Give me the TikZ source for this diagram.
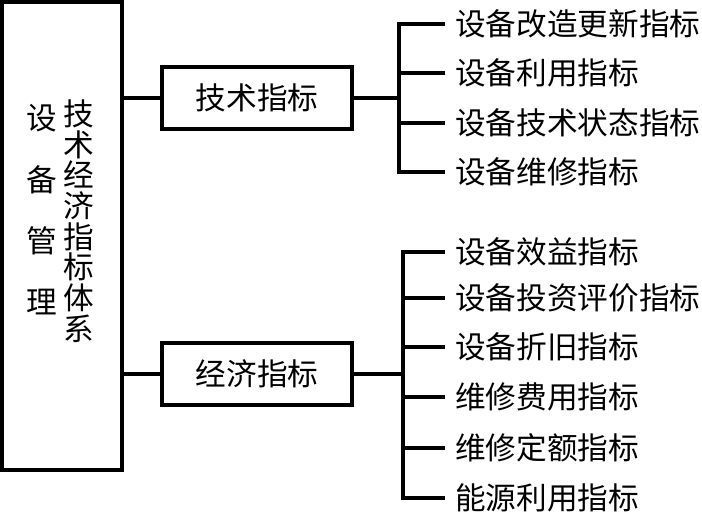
\documentclass[tikz,border=0pt]{standalone}
\usepackage{fontspec}
\newfontfamily\cjk{Noto Sans CJK SC}
\usetikzlibrary{positioning}
\tikzset{
  frame/.style  = {draw, line width=2.3pt, inner sep=0pt, fill=white},
  group/.style  = {frame, minimum width=142.5pt, minimum height=46.5pt,
                   font=\cjk\fontsize{23}{24}\selectfont},
  item/.style   = {anchor=west, inner xsep=9pt, inner ysep=0pt,
                   font=\cjk\fontsize{23}{24}\selectfont},
  wire/.style   = {line width=2.3pt, line cap=rect}
}

\begin{document}
\begin{tikzpicture}[x=0.75pt, y=-0.75pt]
\useasboundingbox (0,0) rectangle (702,515);
% ---- Root box with its two columns of text ----
\node[frame, minimum width=90pt, minimum height=351pt] (root) at (62,236) {};
\node[align=center, inner sep=0pt, font=\cjk\fontsize{23}{46}\selectfont]
  (rootA) at (42,210) {设\\备\\管\\理};
\node[align=center, inner sep=0pt, font=\cjk\fontsize{23}{23}\selectfont]
  (rootB) at (79,221) {技\\术\\经\\济\\指\\标\\体\\系};

% ---- Two groups ----
\node[group] (tech) at (257,98)  {技术指标};
\node[group] (econ) at (257,374) {经济指标};
\draw[wire] (root.east |- tech.west) -- (tech.west);
\draw[wire] (root.east |- econ.west) -- (econ.west);

% ---- Technical indices ----
\coordinate (ts) at (399,98);
\foreach \y/\lab [count=\i] in {%
  24/设备改造更新指标,
  73/设备利用指标,
  123/设备技术状态指标,
  172/设备维修指标} {
  \node[item] (t\i) at (443,\y) {\lab};
  \draw[wire] (ts |- t\i.west) -- (t\i.west);
}
\draw[wire] (tech.east) -- (ts);
\draw[wire] (ts |- t1.west) -- (ts |- t4.west);

% ---- Economic indices ----
\coordinate (es) at (403,374);
\foreach \y/\lab [count=\i] in {%
  252/设备效益指标,
  298/设备投资评价指标,
  347/设备折旧指标,
  397/维修费用指标,
  448/维修定额指标,
  498/能源利用指标} {
  \node[item] (e\i) at (443,\y) {\lab};
  \draw[wire] (es |- e\i.west) -- (e\i.west);
}
\draw[wire] (econ.east) -- (es);
\draw[wire] (es |- e1.west) -- (es |- e6.west);
\end{tikzpicture}
\end{document}
